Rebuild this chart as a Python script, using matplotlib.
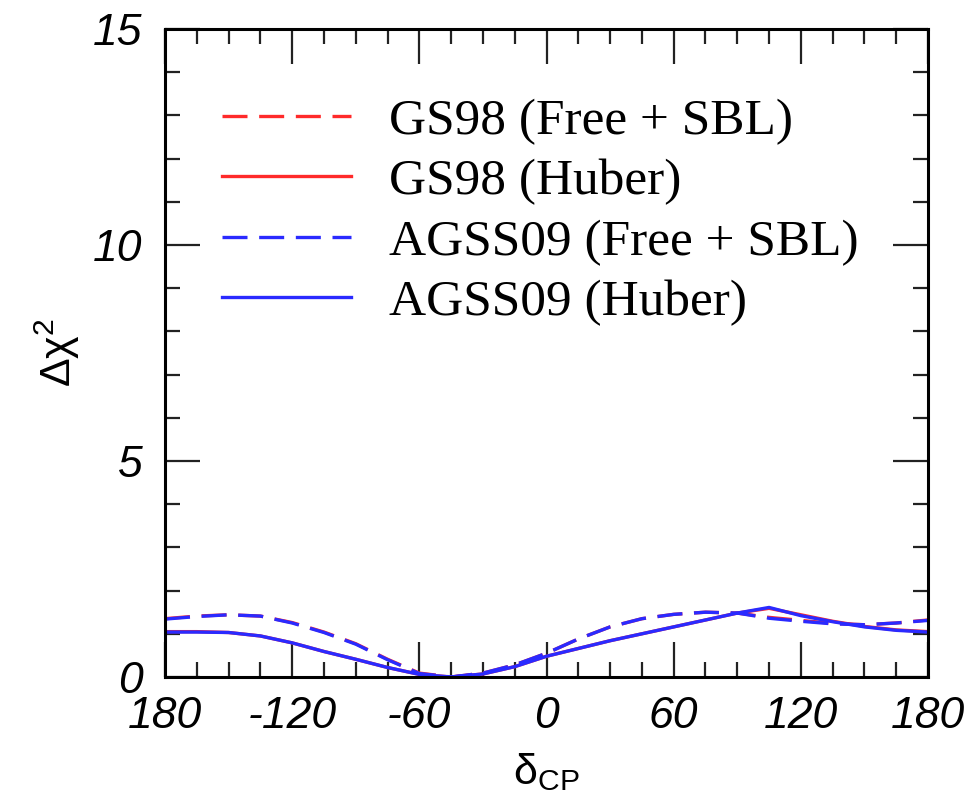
import matplotlib
matplotlib.use("Agg")
import matplotlib.pyplot as plt
import numpy as np

# delta_CP grid (degrees) and Delta chi^2 values
delta = [-180, -165, -150, -135, -120, -105, -90, -75, -60, -45, -30, -15,
         0, 15, 30, 45, 60, 75, 90, 105, 120, 135, 150, 165, 180]

gs98_free = [1.35, 1.41, 1.44, 1.41, 1.26, 1.04, 0.77, 0.41, 0.09, 0.00, 0.09, 0.28,
             0.55, 0.88, 1.16, 1.35, 1.45, 1.50, 1.48, 1.38, 1.31, 1.24, 1.21, 1.25, 1.32]
gs98_huber = [1.05, 1.05, 1.03, 0.95, 0.79, 0.59, 0.41, 0.22, 0.06, 0.00, 0.07, 0.24,
              0.48, 0.66, 0.84, 1.00, 1.16, 1.32, 1.48, 1.59, 1.44, 1.29, 1.17, 1.09, 1.05]
agss_free = [1.34, 1.40, 1.44, 1.41, 1.25, 1.03, 0.76, 0.40, 0.08, 0.00, 0.09, 0.28,
             0.55, 0.88, 1.16, 1.35, 1.45, 1.50, 1.48, 1.36, 1.29, 1.23, 1.21, 1.25, 1.31]
agss_huber = [1.04, 1.04, 1.03, 0.95, 0.79, 0.59, 0.41, 0.22, 0.06, 0.00, 0.07, 0.24,
              0.48, 0.66, 0.84, 1.00, 1.16, 1.32, 1.48, 1.61, 1.42, 1.28, 1.16, 1.08, 1.04]

labels = ["GS98 (Free + SBL)", "GS98 (Huber)", "AGSS09 (Free + SBL)", "AGSS09 (Huber)"]
xticks = [-180, -120, -60, 0, 60, 120, 180]
xticklabels = ["180", "-120", "-60", "0", "60", "120", "180"]
yticks = [0, 5, 10, 15]

RED = "#ff2a2a"
BLUE = "#2a2aff"
DASH = (0, (7.5, 3.5))

fig = plt.figure(figsize=(9.73, 8.10), dpi=100)
ax = fig.add_axes([0.1696, 0.1642, 0.7842, 0.8000])

ax.plot(delta, gs98_free, color=RED, lw=2.4, ls=DASH, label=labels[0])
ax.plot(delta, gs98_huber, color=RED, lw=2.4, ls="-", label=labels[1])
ax.plot(delta, agss_free, color=BLUE, lw=2.4, ls=DASH, label=labels[2])
ax.plot(delta, agss_huber, color=BLUE, lw=2.4, ls="-", label=labels[3])

ax.set_xlim(-180, 180)
ax.set_ylim(0, 15)
ax.set_xticks(xticks)
ax.set_xticklabels(xticklabels)
ax.set_xticks(np.arange(-180, 181, 15), minor=True)
ax.set_yticks(yticks)
ax.set_yticks(np.arange(0, 16, 1), minor=True)

for s in ax.spines.values():
    s.set_linewidth(2.2)

ax.tick_params(which="both", direction="in", top=True, right=True, width=1.6, color="#222222")
ax.tick_params(which="major", length=25)
ax.tick_params(which="minor", length=11)
ax.tick_params(axis="x", which="major", pad=14)
ax.tick_params(axis="y", which="major", pad=16)

for lab in ax.get_xticklabels() + ax.get_yticklabels():
    lab.set_family("Liberation Sans")
    lab.set_style("italic")
    lab.set_fontsize(32)

ax.set_xlabel(r"$\mathregular{\delta_{CP}}$", fontsize=31, family="Liberation Sans", labelpad=10)
ax.set_ylabel(r"$\mathregular{\Delta\chi^2}$", fontsize=31, family="Liberation Sans", labelpad=8)

leg = ax.legend(loc="upper left", bbox_to_anchor=(0.028, 0.949), frameon=False,
                prop={"family": "Liberation Serif", "size": 37},
                handlelength=2.5, handletextpad=0.75, labelspacing=0.26, borderaxespad=0.3)

fig.savefig("out.png", dpi=100)
